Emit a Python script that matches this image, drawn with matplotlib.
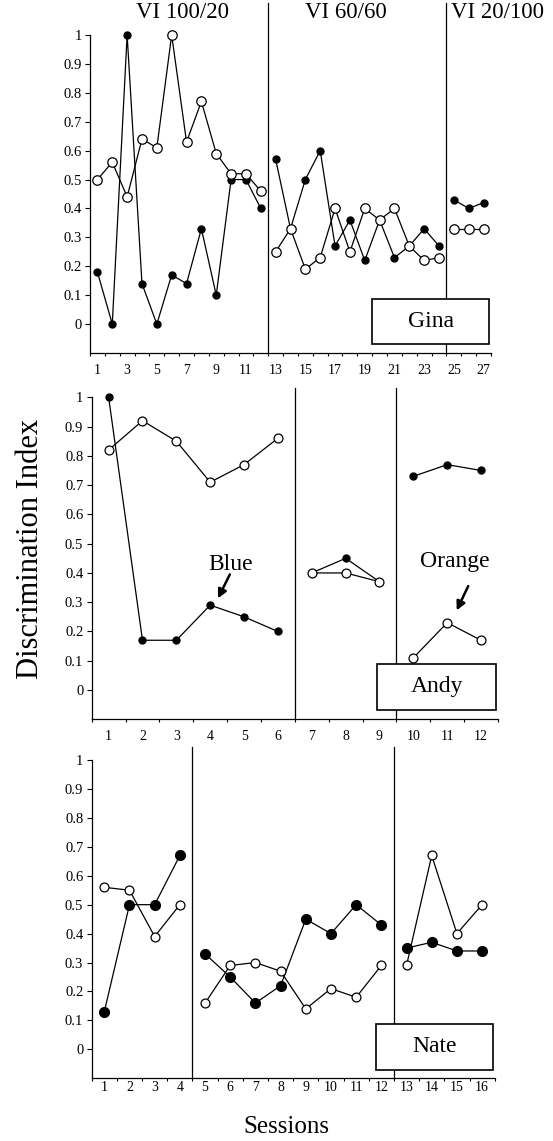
import matplotlib
matplotlib.use('Agg')
import matplotlib.pyplot as plt
from matplotlib.patches import Rectangle
import numpy as np

plt.rcParams['font.family'] = ['Liberation Serif', 'DejaVu Serif']

# ---- data -------------------------------------------------------------
gina_filled = [0.18, 0, 1.0, 0.14, 0, 0.17, 0.14, 0.33, 0.1, 0.5, 0.5, 0.4,
               0.57, 0.33, 0.5, 0.6, 0.27, 0.36, 0.22, 0.36, 0.23, 0.27, 0.33, 0.27,
               0.43, 0.4, 0.42]
gina_open = [0.5, 0.56, 0.44, 0.64, 0.61, 1.0, 0.63, 0.77, 0.59, 0.52, 0.52, 0.46,
             0.25, 0.33, 0.19, 0.23, 0.4, 0.25, 0.4, 0.36, 0.4, 0.27, 0.22, 0.23,
             0.33, 0.33, 0.33]
gina_breaks = [12.5, 24.5]

andy_filled = [1.0, 0.17, 0.17, 0.29, 0.25, 0.2, 0.4, 0.45, 0.37, 0.73, 0.77, 0.75]
andy_open = [0.82, 0.92, 0.85, 0.71, 0.77, 0.86, 0.4, 0.4, 0.37, 0.11, 0.23, 0.17]
andy_breaks = [6.5, 9.5]

nate_filled = [0.13, 0.5, 0.5, 0.67, 0.33, 0.25, 0.16, 0.22, 0.45, 0.4, 0.5, 0.43,
               0.35, 0.37, 0.34, 0.34]
nate_open = [0.56, 0.55, 0.39, 0.5, 0.16, 0.29, 0.3, 0.27, 0.14, 0.21, 0.18, 0.29,
             0.29, 0.67, 0.4, 0.5]
nate_breaks = [4.5, 12.5]

phase_titles = ['VI 100/20', 'VI 60/60', 'VI 20/100']
y_ticks = [0, 0.1, 0.2, 0.3, 0.4, 0.5, 0.6, 0.7, 0.8, 0.9, 1]
y_ticklabels = ['0', '0.1', '0.2', '0.3', '0.4', '0.5', '0.6', '0.7', '0.8', '0.9', '1']

W, H = 553, 1141
fig = plt.figure(figsize=(W / 100, H / 100), dpi=100)


def px_axes(left, top, right, bottom):
    # pixel box -> figure fraction
    return [left / W, 1 - bottom / H, (right - left) / W, (bottom - top) / H]


def panel(rect, filled, opened, breaks, name, label_step, label_pad,
          line_top, ms_f, ms_o, box):
    ax = fig.add_axes(rect)
    n = len(filled)
    x = np.arange(1, n + 1)
    filled = np.array(filled)
    opened = np.array(opened)
    edges = [0.5] + list(breaks) + [n + 0.5]
    for a, b in zip(edges[:-1], edges[1:]):
        m = (x > a) & (x < b)
        ax.plot(x[m], filled[m], '-o', color='black', lw=0.9, ms=ms_f,
                mfc='black', mec='black', clip_on=False, zorder=3)
        ax.plot(x[m], opened[m], '-o', color='black', lw=0.9, ms=ms_o,
                mfc='white', mec='black', mew=0.9, clip_on=False, zorder=4)
    for b in breaks:
        ax.axvline(b, ymin=0, ymax=line_top, color='black', lw=0.9,
                   clip_on=False, zorder=2)
    ax.set_xlim(0.5, n + 0.5)
    ax.set_ylim(-0.1, 1.0)
    ax.set_yticks(y_ticks)
    ax.set_yticklabels(y_ticklabels)
    ax.set_xticks(np.arange(0.5, n + 1, 1.0))
    ax.set_xticklabels([])
    ax.set_xticks(x, minor=True)
    ax.set_xticklabels([str(v) if (v - 1) % label_step == 0 else '' for v in x],
                       minor=True)
    ax.tick_params(axis='x', which='major', direction='out', length=2.5, width=0.8)
    ax.tick_params(axis='x', which='minor', length=0, pad=label_pad, labelsize=10)
    ax.tick_params(axis='y', direction='out', length=3.5, width=0.8, pad=2.5,
                   labelsize=10.5)
    for s in ['top', 'right']:
        ax.spines[s].set_visible(False)
    for s in ['left', 'bottom']:
        ax.spines[s].set_linewidth(0.9)
    bx0, by0, bx1, by1 = box
    ax.add_patch(Rectangle((bx0, by0), bx1 - bx0, by1 - by0, transform=ax.transAxes,
                           facecolor='white', edgecolor='black', lw=1.2,
                           clip_on=False, zorder=5))
    ax.text((bx0 + bx1) / 2, (by0 + by1) / 2, name, transform=ax.transAxes,
            ha='center', va='center', fontsize=17, zorder=6)
    return ax


ax1 = panel(px_axes(90, 35, 491, 353), gina_filled, gina_open, gina_breaks,
            'Gina', 2, 8.0, 1.10, 5, 6.8, (0.7025, 0.028, 0.9958, 0.169))
ax2 = panel(px_axes(91.7, 397.3, 498, 719.3), andy_filled, andy_open, andy_breaks,
            'Andy', 1, 8.0, 1.029, 5, 6.4, (0.703, 0.029, 0.995, 0.172))
ax3 = panel(px_axes(91.7, 760, 494.7, 1078.3), nate_filled, nate_open, nate_breaks,
            'Nate', 1, 2.0, 1.041, 7, 6.4, (0.705, 0.026, 0.997, 0.171))

# phase titles
for t, xp in zip(phase_titles, [182, 346, 498]):
    fig.text(xp / W, 1 - 18.5 / H, t, ha='center', va='baseline', fontsize=16.5)

# annotations on Andy's panel
ax2.text(4.6, 0.43, 'Blue', fontsize=17, ha='center', va='center')
ax2.annotate('', xy=(4.23, 0.313), xytext=(4.58, 0.395),
             arrowprops=dict(arrowstyle='-|>', color='black', lw=1.8,
                             mutation_scale=13, shrinkA=0, shrinkB=0))
ax2.text(11.23, 0.44, 'Orange', fontsize=17, ha='center', va='center')
ax2.annotate('', xy=(11.28, 0.272), xytext=(11.62, 0.355),
             arrowprops=dict(arrowstyle='-|>', color='black', lw=1.8,
                             mutation_scale=13, shrinkA=0, shrinkB=0))

fig.text(31 / W, 1 - 549 / H, 'Discrimination Index', rotation=90,
         ha='center', va='center', fontsize=22)
fig.text(286 / W, 1 - 1127 / H, 'Sessions', ha='center', va='center', fontsize=18)

fig.savefig('out.png', dpi=100)
